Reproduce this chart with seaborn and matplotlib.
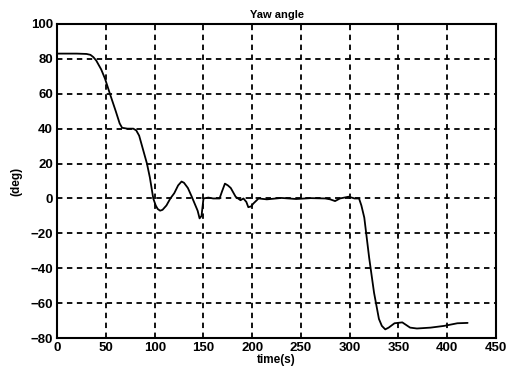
import matplotlib
matplotlib.use("Agg")
import matplotlib.pyplot as plt
import pandas as pd
import seaborn as sns

# yaw angle trace
time_s = [0, 10, 20, 30, 34, 37, 40, 45, 49, 54, 60, 64, 66.5, 72, 78, 81, 84,
          88, 92, 95, 98.5, 101, 103, 105.5, 108, 112, 116, 120, 124, 127.5,
          130, 134, 138, 141, 144, 146, 148, 150, 155, 160, 166.5, 169, 172,
          175, 178, 183, 188, 191, 194, 196, 199, 201, 206.5, 215,
          230, 245, 260, 275, 280, 285, 290, 299, 305, 309.6, 312, 315, 320,
          325, 330, 333, 336.5, 340, 346, 354, 362, 369, 383, 397, 410.5, 421]
yaw_deg = [83, 83, 83, 82.8, 82.3, 81, 79, 74, 68.6, 60, 50, 43, 40.5, 40, 40,
           39, 36, 28, 20, 12, 0, -4, -6, -7, -6.5, -4, 0, 3, 7.5, 9.7,
           9, 6, 1, -3, -7, -11.4, -10, 0, 0.5, 0, 0, 4, 8.5,
           7.5, 6, 1, -1, 0, -2, -5, -4.5, -3, 0, -0.5,
           0.3, -0.3, 0.2, 0, -0.5, -1.5, 0, 1, 0, 0, -4, -11, -34,
           -54, -69, -73, -75, -74, -71.5, -71, -74, -74.5, -74, -73, -71.5, -71.3]

x_ticks = list(range(0, 451, 50))
y_ticks = list(range(-80, 101, 20))

df = pd.DataFrame({"time": time_s, "yaw": yaw_deg})

sns.set_theme(style="white")
plt.rcParams["font.family"] = ["Liberation Sans", "DejaVu Sans"]
plt.rcParams["font.weight"] = "bold"
plt.rcParams["text.color"] = "black"
plt.rcParams["axes.labelcolor"] = "black"

fig = plt.figure(figsize=(5.16, 3.74), dpi=100)
ax = fig.add_axes([0.111, 0.096, 0.85, 0.84])

sns.lineplot(data=df, x="time", y="yaw", color="black", linewidth=1.3, ax=ax)

ax.set_xlim(0, 450)
ax.set_ylim(-80, 100)
ax.set_xticks(x_ticks)
ax.set_yticks(y_ticks)
ax.grid(True, color="black", linestyle=(0, (3, 2.5)), linewidth=1.3)
ax.tick_params(direction="in", length=3, labelsize=9.5, colors="black", pad=3)
for lab in ax.get_xticklabels() + ax.get_yticklabels():
    lab.set_fontweight("bold")
for sp in ax.spines.values():
    sp.set_color("black")
    sp.set_linewidth(1.5)

ax.set_title("Yaw angle", fontsize=8, fontweight="bold", pad=4, color="black")
ax.set_xlabel("time(s)", fontsize=8.5, fontweight="bold", labelpad=0)
ax.set_ylabel("(deg)", fontsize=8.5, fontweight="bold", labelpad=6)

fig.savefig("out.png", dpi=100)
